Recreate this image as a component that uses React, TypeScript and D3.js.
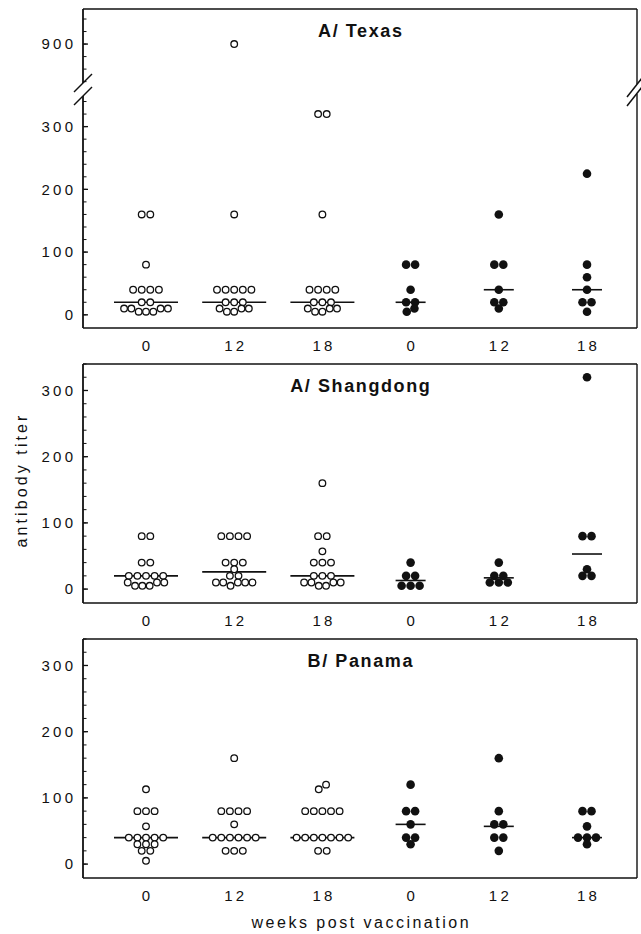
import React from 'react';
import * as d3 from 'd3';

// ---------- data ----------
const groupIds = ['o0', 'o12', 'o18', 'f0', 'f12', 'f18'];
const weekLabels = ['0', '12', '18', '0', '12', '18'];
const groupFilled = [false, false, false, true, true, true];

const panelTitles = ['A/ Texas', 'A/ Shangdong', 'B/ Panama'];

const texasValues = [
  [160, 160, 80, 40, 40, 40, 40, 20, 20, 10, 10, 10, 10, 5, 5, 5],
  [900, 160, 40, 40, 40, 40, 40, 20, 20, 20, 10, 10, 10, 5, 5],
  [320, 320, 160, 40, 40, 40, 40, 20, 20, 20, 10, 10, 10, 5, 5],
  [80, 80, 40, 20, 20, 10, 5],
  [160, 80, 80, 40, 20, 20, 10],
  [225, 80, 60, 40, 20, 20, 5],
];
const texasMedians = [20, 20, 20, 20, 40, 40];

const shangdongValues = [
  [80, 80, 40, 40, 20, 20, 20, 20, 20, 10, 10, 10, 5, 5, 5],
  [80, 80, 80, 80, 40, 40, 40, 30, 20, 20, 10, 10, 10, 10, 10, 5],
  [160, 80, 80, 57, 40, 40, 40, 20, 20, 20, 10, 10, 10, 10, 5, 5],
  [40, 20, 20, 5, 5, 5],
  [40, 20, 20, 10, 10, 10],
  [320, 80, 80, 30, 20, 20],
];
const shangdongMedians = [20, 26, 20, 13, 17, 53];

const panamaValues = [
  [113, 80, 80, 80, 57, 40, 40, 40, 40, 40, 30, 30, 30, 20, 20, 5],
  [160, 80, 80, 80, 80, 60, 40, 40, 40, 40, 40, 40, 20, 20, 20],
  [120, 113, 80, 80, 80, 80, 80, 40, 40, 40, 40, 40, 40, 40, 20, 20],
  [120, 80, 80, 60, 40, 40, 30],
  [160, 80, 60, 60, 40, 40, 20],
  [80, 80, 57, 40, 40, 40, 30],
];
const panamaMedians = [40, 40, 40, 60, 57, 40];

const majorTicks = [0, 100, 200, 300];
const upperMajorTicks = [900];

// ---------- layout ----------
const W = 641;
const H = 934;
const FL = 83;
const FR = 637;
const FONT = 'Liberation Sans, Arial, Helvetica, sans-serif';

type Pt = { v: number; dx: number };

function swarm(values: number[], y: (v: number) => number, spacing: number, mergePx: number): Pt[] {
  const sorted = [...values].sort((a, b) => b - a);
  const rows: number[][] = [];
  for (const v of sorted) {
    const last = rows[rows.length - 1];
    if (last && Math.abs(y(last[0]) - y(v)) < mergePx) last.push(v);
    else rows.push([v]);
  }
  const out: Pt[] = [];
  for (const row of rows) {
    const n = row.length;
    const mixed = row.some((v) => v !== row[0]);
    const sp = mixed ? spacing * 0.85 : spacing;
    const offs = d3.range(n).map((i) => (i - (n - 1) / 2) * sp);
    const order = offs
      .map((o, i) => ({ o, i }))
      .sort((a, b) => Math.abs(a.o) - Math.abs(b.o) || a.o - b.o);
    const asc = [...row].sort((a, b) => a - b);
    order.forEach((s, k) => out.push({ v: asc[k], dx: s.o }));
  }
  return out;
}

type PanelProps = {
  top: number;
  bottom: number;
  title: string;
  values: number[][];
  medians: number[];
  broken?: boolean;
};

const xScale = d3.scalePoint<string>().domain(groupIds).range([146, 587]);

function Panel({ top, bottom, title, values, medians, broken }: PanelProps) {
  const lower = broken
    ? d3.scaleLinear().domain([-21, 348]).range([bottom, 96.5])
    : d3.scaleLinear().domain([-21, 340]).range([bottom, top]);
  const upper = d3.scaleLinear().domain([837, 956]).range([83.5, top]);
  const y = (v: number) => (broken && v > 600 ? upper(v) : lower(v));

  const minorLower = d3.range(0, 341, 20);
  const minorUpper = broken ? d3.range(840, 941, 20) : [];

  const tickLS = 3.2;
  const tickFS = 15;
  const stroke = '#111';

  return (
    <g>
      {/* frame */}
      <line x1={FL} x2={FR} y1={top} y2={top} stroke={stroke} strokeWidth={1.4} />
      <line x1={FL} x2={FR} y1={bottom} y2={bottom} stroke={stroke} strokeWidth={1.6} />
      {broken ? (
        <>
          <line x1={FL} x2={FL} y1={top} y2={83} stroke={stroke} strokeWidth={1.8} />
          <line x1={FL} x2={FL} y1={96} y2={bottom} stroke={stroke} strokeWidth={1.8} />
          <line x1={FR} x2={FR} y1={top} y2={84} stroke={stroke} strokeWidth={1.4} />
          <line x1={FR} x2={FR} y1={94} y2={bottom} stroke={stroke} strokeWidth={1.4} />
          <line x1={74} y1={92} x2={92} y2={74} stroke={stroke} strokeWidth={1.5} />
          <line x1={74} y1={105} x2={92} y2={87} stroke={stroke} strokeWidth={1.5} />
          <line x1={627} y1={97} x2={642} y2={78} stroke={stroke} strokeWidth={1.5} />
          <line x1={627} y1={106} x2={642} y2={87} stroke={stroke} strokeWidth={1.5} />
        </>
      ) : (
        <>
          <line x1={FL} x2={FL} y1={top} y2={bottom} stroke={stroke} strokeWidth={1.8} />
          <line x1={FR} x2={FR} y1={top} y2={bottom} stroke={stroke} strokeWidth={1.4} />
        </>
      )}

      {/* ticks */}
      {[...minorLower.map((t) => lower(t)), ...minorUpper.map((t) => upper(t))].map((yy, i) => (
        <line key={'m' + i} x1={FL} x2={FL + 3.5} y1={yy} y2={yy} stroke={stroke} strokeWidth={1} />
      ))}
      {majorTicks.map((t) => (
        <g key={'M' + t}>
          <line x1={FL} x2={FL + 5} y1={lower(t)} y2={lower(t)} stroke={stroke} strokeWidth={1.3} />
          <text
            x={73 + tickLS}
            y={lower(t)}
            dy="0.36em"
            textAnchor="end"
            fontFamily={FONT}
            fontSize={tickFS}
            letterSpacing={tickLS}
            fill="#111"
          >
            {t}
          </text>
        </g>
      ))}
      {broken &&
        upperMajorTicks.map((t) => (
          <g key={'U' + t}>
            <line x1={FL} x2={FL + 5} y1={upper(t)} y2={upper(t)} stroke={stroke} strokeWidth={1.3} />
            <text
              x={73 + tickLS}
              y={upper(t)}
              dy="0.36em"
              textAnchor="end"
              fontFamily={FONT}
              fontSize={tickFS}
              letterSpacing={tickLS}
              fill="#111"
            >
              {t}
            </text>
          </g>
        ))}

      {/* title */}
      <text
        x={(FL + FR) / 2 + 0.8}
        y={top + 28}
        textAnchor="middle"
        fontFamily={FONT}
        fontWeight="bold"
        fontSize={18}
        letterSpacing={1.6}
        fill="#111"
      >
        {title}
      </text>

      {/* category labels */}
      {groupIds.map((g, i) => (
        <text
          key={'x' + g}
          x={(xScale(g) as number) + tickLS / 2}
          y={bottom + 23}
          textAnchor="middle"
          fontFamily={FONT}
          fontSize={tickFS}
          letterSpacing={tickLS}
          fill="#111"
        >
          {weekLabels[i]}
        </text>
      ))}

      {/* points and medians */}
      {groupIds.map((g, i) => {
        const filled = groupFilled[i];
        const cx = xScale(g) as number;
        const pts = swarm(values[i], y, filled ? 9 : 8.6, 5);
        const halfW = filled ? 15 : 32;
        return (
          <g key={'g' + g}>
            <line
              x1={cx - halfW}
              x2={cx + halfW}
              y1={y(medians[i])}
              y2={y(medians[i])}
              stroke="#111"
              strokeWidth={1.6}
            />
            {pts.map((p, k) =>
              filled ? (
                <circle key={k} cx={cx + p.dx} cy={y(p.v)} r={4.3} fill="#111" />
              ) : (
                <circle
                  key={k}
                  cx={cx + p.dx}
                  cy={y(p.v)}
                  r={3.3}
                  fill="#fff"
                  stroke="#111"
                  strokeWidth={1.3}
                />
              )
            )}
          </g>
        );
      })}
    </g>
  );
}

export default function App() {
  return (
    <svg
      width={W}
      height={H}
      viewBox={`0 0 ${W} ${H}`}
      style={{ position: 'absolute', left: 0, top: 0, background: '#fff' }}
    >
      <rect x={0} y={0} width={W} height={H} fill="#fff" />
      <Panel top={9} bottom={328} title={panelTitles[0]} values={texasValues} medians={texasMedians} broken />
      <Panel top={364} bottom={603} title={panelTitles[1]} values={shangdongValues} medians={shangdongMedians} />
      <Panel top={639} bottom={878} title={panelTitles[2]} values={panamaValues} medians={panamaMedians} />
      <text
        transform="translate(27,480) rotate(-90)"
        textAnchor="middle"
        fontFamily={FONT}
        fontSize={16}
        letterSpacing={3.1}
        fill="#111"
      >
        antibody titer
      </text>
      <text
        x={360 + 1.3}
        y={928}
        textAnchor="middle"
        fontFamily={FONT}
        fontSize={16}
        letterSpacing={2.5}
        fill="#111"
      >
        weeks post vaccination
      </text>
    </svg>
  );
}
